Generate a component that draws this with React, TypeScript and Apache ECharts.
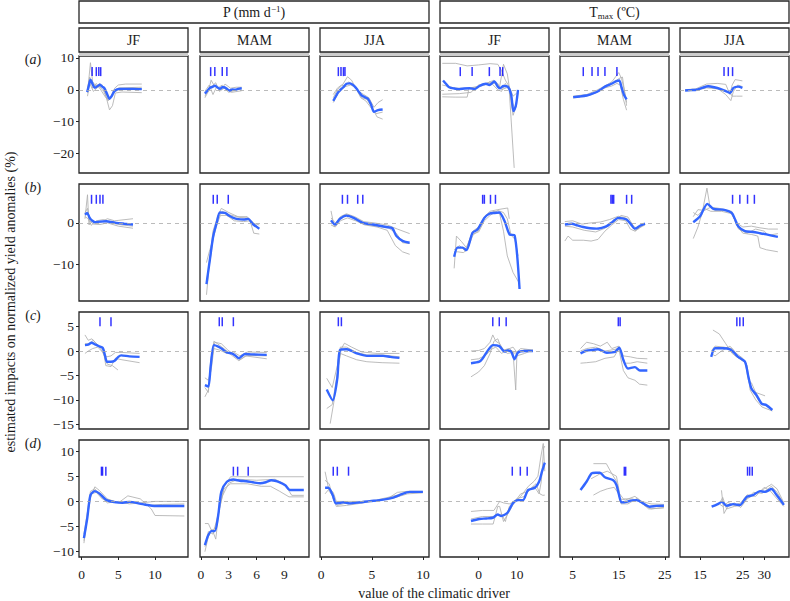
import React, { useEffect, useRef } from "react";
import * as echarts from "echarts";

// ---------- layout / axes ----------
const colLefts = [79, 200, 320, 440, 560, 680];
const rowTops = [56, 184, 312, 440];
const PW = 109;
const PH = 117;

const xMins = [-0.36, -0.1, -0.1, -10.1, 2.25, 10.3];
const xMaxs = [14.5, 11.66, 10.6, 18.4, 25.9, 35.8];
const yMins = [-26.1, -18.9, -16.0, -11.05];
const yMaxs = [10.6, 9.4, 8.0, 12.2];
const xTicks = [[0, 5, 10], [0, 3, 6, 9], [0, 5, 10], [0, 10], [5, 15, 25], [15, 25, 30]];
const yTicks = [[10, 0, -10, -20], [0, -10], [5, 0, -5, -10, -15], [10, 5, 0, -5, -10]];
const rugY = [5.7, 5.7, 6.0, 6.0];
const rowLabels = ["a", "b", "c", "d"];
const seasons = ["JF", "MAM", "JJA", "JF", "MAM", "JJA"];

// ---------- row (a) ----------
const a1Blue = [[0.75,-0.7],[1.0,1.5],[1.2,3.2],[1.5,1.8],[1.8,0.6],[2.2,1.2],[2.5,1.6],[2.8,1.0],[3.1,0.5],[3.5,-1.5],[3.8,-2.8],[4.1,-2.0],[4.5,-0.3],[5.2,0.3],[6,0.3],[7,0.3],[8.2,0.2]];
const a1Gray = [
  [[0.8,-1],[1.2,8.5],[1.5,2.5],[2,1],[2.5,2],[3,0.5],[3.5,-2],[4,-2.5],[4.5,0.5],[5,1.5],[6,1.8],[8.2,1.8]],
  [[0.8,-2],[1.1,2],[1.6,-0.5],[2.2,0.8],[2.8,1.5],[3.2,-1],[3.8,-6.3],[4.2,-5],[4.6,-1],[5.5,-0.7],[8.2,-0.9]],
  [[0.8,0.5],[1.1,4],[1.5,0.5],[2,2],[2.6,0],[3.3,-2.5],[3.8,-3],[4.3,-1],[5,0],[8.2,0.1]],
  [[0.8,-0.5],[1.2,2.5],[1.7,1],[2.3,1.5],[3,-0.5],[3.6,-3.5],[4.1,-1.5],[5,0.6],[8.2,0.8]],
];
const a1Rug = [1.43, 2.0, 2.34, 2.6];

const a2Blue = [[0.43,-1.2],[0.7,-0.3],[0.97,0.6],[1.3,1.0],[1.5,1.3],[1.8,0.7],[2.05,0.3],[2.3,0.8],[2.5,0.8],[2.8,0.3],[3.1,-0.2],[3.4,0.1],[3.7,0],[4.0,0.3],[4.4,0.5]];
const a2Gray = [
  [[0.43,-2.5],[0.8,-0.5],[1.1,3],[1.4,1.5],[1.8,0.5],[2.3,1.5],[2.8,0],[3.3,-0.8],[4.4,-0.3]],
  [[0.43,-0.5],[0.9,1.5],[1.3,-1.5],[1.7,1],[2.2,0],[2.6,1.8],[3.2,0.5],[3.8,0.8],[4.4,0.8]],
  [[0.43,-2],[0.8,0],[1.2,1.2],[1.6,2.2],[2.0,-0.5],[2.5,0.5],[3.0,-0.8],[3.6,-0.2],[4.4,0.3]],
];
const a2Rug = [1.05, 1.5, 2.3, 2.8];

const a3Blue = [[1.2,-3.5],[1.5,-1.8],[1.7,-0.7],[2.0,0.3],[2.25,1.0],[2.5,1.9],[2.8,2.0],[3.0,1.8],[3.25,1.2],[3.5,0.3],[3.75,-0.8],[4.0,-1.8],[4.3,-2.3],[4.6,-2.8],[4.9,-4.5],[5.2,-6.9],[5.6,-6.4],[6.05,-6.2]];
const a3Gray = [
  [[1.2,-2.5],[1.6,0],[2.1,1.5],[2.6,4.1],[3.0,3],[3.5,0],[4,-2.5],[4.5,-3],[5.0,-5.5],[5.5,-8.5],[6.05,-9.2]],
  [[1.2,-4],[1.7,-1],[2.2,0.5],[2.7,2.5],[3.2,1.5],[3.7,-0.5],[4.2,-1.5],[4.7,-2.5],[5.2,-5.5],[5.6,-4],[6.05,-3.1]],
  [[1.2,-1.5],[1.6,0.5],[2.0,1.5],[2.4,1],[2.9,1.5],[3.4,0.8],[3.9,-2.5],[4.4,-3.5],[5.0,-6],[5.4,-7.5],[6.05,-7]],
];
const a3Rug = [1.7, 1.96, 2.2, 2.35];

const a4Blue = [[-9.3,2.9],[-8.5,1.8],[-7.7,0.8],[-6.4,0.4],[-5.1,0.2],[-3.7,0.4],[-2.4,0.5],[-1.1,0.2],[0.2,1.2],[1.9,1.9],[2.8,1.5],[4.1,2.6],[5.0,1.0],[5.6,0.5],[6.5,1.2],[7.6,1.0],[8.5,-1.5],[9.1,-6.7],[9.7,-5.2],[10.3,0]];
const a4Gray = [
  [[-9.5,8.3],[-6,8.3],[-3,7.5],[0,7.8],[3,8.2],[5,8],[6,6],[7,3],[8,1],[9,-2],[10,-1]],
  [[-9.5,-2.2],[-6,-2.3],[-3,-2.3],[-2.5,0.5],[0,1],[3,2.5],[5,0],[6,-0.5],[7,2],[8,0],[9.3,-24.5]],
  [[-9.5,-1.4],[-5,-1.2],[-2,-0.8],[0,1.5],[2,2],[4,3],[5.5,1],[6.5,8],[7.5,5],[8.5,-3],[9.5,-6],[10,-4]],
  [[-9.5,1.5],[-6,0.5],[-3,0.5],[0,1],[3,2],[5,2],[6,0],[8,1],[9,-8],[9.6,-6],[10.3,-1]],
];
const a4Rug = [-4.8, -1.7, 2.8, 5.6, 6.3];

const a5Blue = [[5.1,-2.3],[6.5,-2.1],[8.0,-1.8],[9.1,-1.3],[10.2,-0.7],[11.1,0.1],[12.0,1.0],[13.4,1.9],[14.5,2.7],[15.1,2.9],[15.6,0.8],[16.1,-1.5],[16.7,-3.0]];
const a5Gray = [
  [[5.1,-2.0],[8,-1.5],[10,-0.3],[12,1.2],[13.5,2.5],[15,5.4],[15.6,3.5],[16.2,0],[16.7,-4]],
  [[5.1,-2.6],[8,-2.0],[10,-1.0],[12,0.6],[13.5,1.2],[14.6,2.0],[15.3,1.5],[16,-3],[16.7,-6.4]],
  [[5.1,-2.2],[8,-1.9],[10,-0.8],[12,0.9],[13.8,2.2],[15,3.5],[15.8,4],[16.3,-1],[16.7,-5]],
];
const a5Rug = [7.3, 9.2, 10.5, 12.0, 14.6];

const a6Blue = [[11.5,-0.2],[12.8,-0.1],[14.2,0],[15.5,0.6],[16.9,1.1],[18.3,0.8],[19.7,0.3],[21,-0.4],[22.0,-1.0],[22.8,0.6],[23.9,1.0],[24.9,0.6]];
const a6Gray = [
  [[11.5,0],[14,0.3],[16.5,1.8],[19,2],[21,1.7],[22,-1.5],[22.5,1.5],[23.2,3.2],[24.9,2.8]],
  [[11.5,-0.3],[14,-0.2],[16.5,0.6],[19,0.3],[21,-0.5],[22,-0.8],[22.5,-2],[23.5,-2],[24.9,-2]],
  [[11.5,-0.1],[14,0],[16.5,1],[19,0.5],[21,-1.5],[22.2,-3.4],[22.8,-0.5],[23.8,1.5],[24.9,1]],
];
const a6Rug = [20.6, 21.6, 22.6];

// ---------- row (b) ----------
const b1Blue = [[0.45,2.0],[0.76,2.4],[1.1,1.2],[1.4,0.6],[1.8,0.15],[2.5,0.3],[3.4,0.4],[4.0,0.2],[4.7,0],[5.8,-0.2],[7.0,-0.4]];
const b1Gray = [
  [[0.45,1],[0.8,6.8],[1.0,-0.5],[1.5,0.5],[2.5,0],[3.5,1],[4.5,0.5],[7.0,1.0]],
  [[0.45,2.5],[0.8,3.5],[1.1,0.5],[1.6,-0.3],[2.5,-0.4],[3.5,0],[5,-0.8],[7.0,-1.3]],
  [[0.45,1.5],[0.9,1],[1.3,-0.6],[2,0.5],[3,0.8],[4.5,-0.2],[5.5,-0.5],[7.0,-0.8]],
];
const b1Rug = [1.35, 2.0, 2.5, 2.9];

const b2Blue = [[0.6,-14.8],[0.97,-8.8],[1.33,-3.2],[1.7,0],[2.05,2.5],[2.6,2.4],[3.0,1.8],[3.5,1.2],[4.0,0.9],[4.6,0.8],[5.1,0.96],[5.65,-0.4],[6.3,-1.4]];
const b2Gray = [
  [[0.6,-17.4],[0.9,-10],[1.3,-2],[1.8,1.5],[2.2,3.5],[3,2.5],[4,1.5],[5,1.5],[5.5,0],[6.3,-0.5]],
  [[0.6,-9.6],[0.9,-7],[1.3,-4],[1.7,-0.5],[2.1,1.8],[2.8,1.8],[3.6,0.5],[4.6,0.3],[5.3,0.5],[5.7,-2.5],[6.3,-2.7]],
  [[0.6,-14],[1.0,-9],[1.4,-2.5],[1.8,1],[2.3,2.8],[3.0,2.0],[4.2,1.3],[5.0,1.2],[5.7,0],[6.3,-1.5]],
];
const b2Rug = [1.33, 1.76, 2.95];

const b3Blue = [[0.98,0.6],[1.37,-0.4],[1.86,1.0],[2.5,1.75],[3.2,1.2],[4.1,0],[5.1,-0.4],[6.4,-1.0],[7.0,-1.3],[7.4,-3.2],[8.05,-4.4],[8.7,-4.8]];
const b3Gray = [
  [[0.98,2.9],[1.3,-1.0],[1.9,1.5],[2.5,2.2],[3.3,1.5],[4.2,0.3],[5.2,0],[6.5,-0.5],[7.5,-1.5],[8.7,-2.6]],
  [[0.98,-0.5],[1.4,-1],[1.9,0.5],[2.6,1.2],[3.4,0.5],[4.3,-0.5],[5.5,-1],[6.5,-1.8],[7.3,-5.5],[8,-7],[8.7,-7.6]],
  [[0.98,1.2],[1.4,0],[1.9,1.2],[2.5,2],[3.3,1],[4.2,-0.3],[5.3,-0.7],[6.6,-1.2],[7.4,-2.5],[8.0,-4.8],[8.7,-5]],
];
const b3Rug = [2.1, 2.6, 3.6, 4.1];

const b4Blue = [[-6.4,-8.2],[-5.5,-6.0],[-4.2,-6.0],[-3.2,-6.6],[-1.6,-2.4],[-0.3,-1.6],[1.5,1.2],[2.8,2.2],[4.1,2.4],[5.4,2.5],[6.8,0.4],[8.1,-2.8],[9.4,-3.0],[10.7,-16.0]];
const b4Gray = [
  [[-6.4,-11],[-5.8,-3.2],[-4.5,-4.5],[-3.2,-6],[-1.5,-2],[0,-1],[1.5,1.5],[3,2.8],[5,3.2],[7.6,3.6],[8,1.0]],
  [[-6.4,-7],[-5.5,-7],[-4,-7.2],[-3,-6.5],[-1.5,-3],[0,-1.8],[2,1.8],[4,2.8],[5.5,2.2],[6.5,-2],[7.5,-8],[9,-12],[10.5,-14.4]],
  [[-6.4,-6.5],[-5,-5.5],[-3.5,-6.8],[-1.8,-2.8],[0,-2.2],[1.5,0.5],[3,1.8],[5,3],[6.5,2.5],[7.5,1],[8.5,-3],[9.5,-4],[10.3,-8]],
];
const b4Rug = [1.05, 1.5, 3.1, 4.4];

const b5Blue = [[3.3,-0.4],[4.8,-0.2],[6,-0.6],[7.3,-1.0],[8.8,-1.3],[10.2,-1.4],[11.3,-1.2],[12.4,-0.8],[13.7,0.3],[14.9,1.2],[15.8,1.1],[16.7,0.8],[17.6,-0.3],[18.5,-1.4],[19.6,-0.7],[20.7,-0.2]];
const b5Gray = [
  [[3.3,0.3],[5,0.5],[7,-0.3],[9,0],[11,0.2],[13,0.8],[14.9,1.6],[16.5,1.2],[18,-0.5],[18.6,-2],[19.5,-1.2],[20.7,-0.5]],
  [[3.3,-4.4],[4,-3.2],[5,-4.2],[7.3,-4.2],[9,-4.4],[10.5,-4.0],[12,-2.0],[13.5,-0.5],[15,0.8],[16.5,0.5],[17.5,-1.5],[18.5,-2.0],[20,-0.5]],
  [[3.3,-0.8],[5,-1.0],[7.5,-1.8],[10,-2.2],[12,-1.3],[14,0.2],[15.5,1.8],[17,1.4],[18.2,-0.8],[19.2,-1.5],[20.5,-0.3]],
];
const b5Rug = [13.3, 13.6, 13.9, 16.7, 17.8];

const b6Blue = [[13.4,0.15],[15,1.6],[16.7,4.6],[18.1,3.4],[20.4,3.2],[22.4,2.4],[23.2,0.8],[23.9,-0.8],[25.5,-2.0],[27.4,-2.2],[29,-2.5],[30.5,-2.8],[33.2,-3.4]];
const b6Gray = [
  [[13.4,-3.8],[14.5,-1],[15.5,2.5],[16.6,8.4],[17.3,4],[18.5,3],[20.5,3],[22.4,2.8],[23.5,-0.5],[25,-2.5],[27,-2.8],[28.5,-3.2],[29,-6],[30.5,-6.5],[33.2,-7]],
  [[13.4,1.5],[14.5,3.2],[16,3],[17.5,3.8],[19.5,3.5],[22,2.8],[23.5,0],[25,-1],[27,-0.8],[29,-1.2],[31,-1.5],[33.2,-1.5]],
  [[13.4,2.5],[14.5,1.8],[16,3.5],[17.5,2.8],[20,2.8],[22.5,2.2],[24,-1.5],[26,-2.5],[28,-1.5],[30,-2],[31,-3],[33.2,-2.6]],
];
const b6Rug = [22.6, 24.3, 26.1, 27.7];

// ---------- row (c) ----------
const c1Blue = [[0.45,1.2],[0.9,1.3],[1.35,1.7],[1.9,1.3],[2.5,0.9],[2.9,0.6],[3.2,-1.0],[3.45,-2.2],[4.0,-2.2],[4.5,-2.0],[5.0,-1.2],[5.4,-0.9],[6.5,-1.1],[7.9,-1.2]];
const c1Gray = [
  [[0.45,3.3],[0.9,2.2],[1.4,2.5],[2,1.5],[2.6,0.5],[3.1,-1],[3.5,-2.7],[4.2,-3],[4.95,-3.9]],
  [[0.45,-0.5],[0.9,0],[1.5,0.5],[2.2,0.8],[2.9,-0.3],[3.4,-1.2],[4,-1],[4.6,-0.3],[5.5,-0.3],[7.9,-0.5]],
  [[0.45,1.5],[1,1.5],[1.6,2.2],[2.3,1],[2.9,0.5],[3.3,-3],[4,-3.2],[4.6,-1.5],[5.5,-1.8],[7.9,-2.4]],
];
const c1Rug = [2.5, 4.0];

const c2Blue = [[0.43,-7.0],[0.8,-7.3],[1.05,-3.2],[1.4,1.2],[1.87,0.9],[2.3,0.4],[2.8,-0.3],[3.3,-0.5],[3.7,-0.9],[4.1,-1.5],[4.75,-0.6],[5.5,-0.7],[7.1,-0.8]];
const c2Gray = [
  [[0.43,-9.4],[0.8,-8],[1.05,-2],[1.4,2],[2,1.2],[2.8,0],[3.4,-1],[4.1,-2],[4.8,-1],[7.1,-1.6]],
  [[0.43,-5.5],[0.8,-6],[1.1,-4],[1.4,0.5],[2,0.2],[2.8,-0.5],[3.5,-0.2],[4.2,-1],[5,-0.2],[7.1,-0.3]],
  [[0.43,-7.5],[0.8,-8.5],[1.1,-2.5],[1.5,1.8],[2.2,1.5],[2.9,0.2],[3.6,-0.8],[4.2,-1.8],[5,-0.9],[7.1,-1.0]],
];
const c2Rug = [1.98, 2.3, 3.5];

const c3Blue = [[0.56,-7.9],[1.15,-10.1],[1.6,-5.6],[1.86,0.2],[2.5,0.35],[3.0,0],[3.5,-0.5],[4.5,-1.0],[6.1,-1.0],[6.8,-1.2],[7.7,-1.4]];
const c3Gray = [
  [[0.9,-14.9],[1.3,-10],[1.7,-3],[2.0,0.5],[2.3,1.6],[3,0.8],[4,-0.2],[5.5,-0.5],[7.7,-0.5]],
  [[0.56,-11.8],[1.1,-11],[1.5,-6],[1.9,-0.5],[2.5,-1],[3.5,-1.8],[4.5,-2.2],[6,-2.4],[7.7,-2.5]],
  [[0.56,-5.6],[1.1,-7.5],[1.6,-3],[1.9,0.8],[2.5,0.8],[3.5,-0.3],[4.5,-0.8],[6,-0.8],[7.7,-1.2]],
];
const c3Rug = [1.7, 2.0];

const c4Blue = [[-2.0,-2.5],[0.2,-2.2],[1.0,-1.6],[1.9,-0.5],[2.8,0.5],[3.7,1.2],[5.4,1.0],[6.8,-0.1],[7.6,0.1],[8.5,-0.1],[9.4,-1.7],[10.3,-0.3],[12.0,0],[14.2,0]];
const c4Gray = [
  [[-2,-5.3],[0,-4.3],[1.5,-3],[3,-0.5],[4,2],[5,2.5],[6,0.5],[7.5,-0.5],[9,-0.3],[9.7,-8.0],[10,-1],[12,-0.5],[14.2,0.2]],
  [[-2,0],[0,0.1],[1.5,0.5],[3,1.8],[3.7,3.3],[4.5,2],[5.5,1.5],[6.5,0.2],[8,0.5],[9.5,-0.5],[11,0.5],[14.2,0.2]],
  [[-2,-1.8],[0,-1.6],[2,-0.8],[3.2,0.3],[4.5,0.8],[6,-0.5],[7.5,0.3],[9,0.8],[10,-0.3],[12,0.2],[14.2,0.1]],
];
const c4Rug = [3.7, 5.4, 7.2];

const c5Blue = [[6.7,-0.5],[8.0,0.05],[9.2,0.2],[10.5,0.35],[12.4,-0.35],[14.2,-0.2],[15.1,0.7],[16.0,-1.85],[17.0,-3.6],[18.5,-3.3],[19.6,-4.0],[21.2,-4.0]];
const c5Gray = [
  [[6.7,-2.5],[8,-2.4],[10,-2.2],[12,-1.5],[14,-1.2],[15,0.5],[16,-4],[17,-5.5],[18.5,-6],[19.5,-6.8],[21.2,-7.0]],
  [[6.7,0.5],[8,1.8],[9.5,1.5],[11,1.0],[12.5,1.8],[13.5,0.5],[15,1],[16,-1],[17.5,-1.2],[19,-1.5],[21.2,-1.6]],
  [[6.7,0],[8,0.5],[10,0.8],[12,0],[14,0.3],[15.3,0.6],[16.3,-2.5],[17.5,-2.5],[19,-2.2],[21.2,-2.5]],
];
const c5Rug = [14.9, 15.3];

const c6Blue = [[17.6,-1.2],[18.5,0.55],[20.4,0.55],[22.0,0.35],[23.0,-0.4],[23.9,-1.2],[25.5,-2.2],[26.3,-5.3],[27.0,-7.7],[28.2,-9.05],[29.4,-10.8],[30.5,-11.1],[31.9,-12.1]];
const c6Gray = [
  [[18,4.3],[19.5,3.5],[21,1.5],[22.5,-0.5],[24,-1.5],[25.5,-2],[26.3,-6],[27,-6.5],[28,-8.5],[30.2,-9.2]],
  [[17.6,-0.5],[18.5,-1],[20,0],[22,1],[23.5,-0.5],[25,-1.5],[26,-3],[26.7,-8],[28,-10],[29.5,-11.5],[31.9,-12.3]],
  [[17.6,0],[18.5,1],[20.5,0.8],[22.5,0.5],[24.5,-1.8],[25.8,-2.5],[26.5,-6.5],[27.5,-8.5],[29,-10.5],[31,-11.5],[31.9,-12]],
];
const c6Rug = [23.6, 24.3, 25.1];

// ---------- row (d) ----------
const d1Blue = [[0.31,-7.3],[0.76,-3.4],[1.2,1.25],[1.8,2.05],[2.4,1.6],[3.4,0.26],[4.7,-0.2],[5.6,-0.26],[6.5,-0.1],[8.3,-0.55],[10.1,-0.93],[14.0,-0.93]];
const d1Gray = [
  [[0.31,-8.3],[0.7,-4],[1.1,0.5],[1.8,2.9],[2.4,2.2],[3.5,0.5],[5,-0.3],[6.3,1.1],[8,0.5],[9.5,-1.5],[10,-2.8],[14,-2.9]],
  [[0.31,-6.5],[0.8,-2],[1.2,2],[1.8,2.5],[2.6,1],[3.5,-0.3],[5,0],[6.5,-0.5],[8,-0.3],[10,0],[14,0]],
  [[0.31,-7.8],[0.8,-3],[1.3,1.5],[2,1.8],[2.8,0.5],[4,0.2],[5.5,-0.4],[7,-0.2],[9,-0.8],[11,-0.6],[14,-0.5]],
];
const d1Rug = [2.7, 2.85, 3.3];

const d2Blue = [[0.43,-8.7],[0.8,-6.7],[1.15,-5.9],[1.5,-5.9],[1.87,-2.7],[2.2,1.9],[2.8,3.9],[3.5,4.35],[4.2,4.1],[4.9,4.0],[5.6,3.8],[6.4,3.6],[7.0,3.8],[7.6,4.2],[8.5,3.8],[9.1,3.2],[9.6,2.25],[11.1,2.25]];
const d2Gray = [
  [[0.43,-10],[0.8,-7],[1.2,-5.5],[1.6,-7.5],[2,-1],[2.5,3],[3.2,4.9],[5,4.9],[8,4.9],[11.1,4.9]],
  [[0.43,-4.4],[0.8,-4.4],[1.2,-6],[1.6,-5],[2,-1.5],[2.5,2.5],[3.2,3.5],[5,3.5],[6.5,3.0],[7.5,3.0],[8.5,2.0],[9.5,0.9],[11.1,0.9]],
  [[0.43,-9],[0.8,-6],[1.3,-6.5],[1.8,-3],[2.3,1],[3,3.6],[4,4.4],[6,4.2],[8,4.4],[9,3.5],[9.8,1.2],[11.1,1.2]],
];
const d2Rug = [3.5, 3.96, 5.1];

const d3Blue = [[0.4,2.7],[0.72,2.7],[1.15,1.25],[1.47,-0.4],[2.2,-0.2],[2.8,-0.4],[3.8,-0.2],[4.8,0.06],[5.6,0.2],[6.4,0.45],[7.0,0.7],[7.7,1.25],[8.7,1.9],[10.0,1.9]];
const d3Gray = [
  [[0.4,5.9],[0.8,2],[1.2,1],[1.5,-1],[2.5,-0.8],[3.5,-0.5],[5,0],[6.5,0.5],[7.5,1.8],[8.5,2],[10,2]],
  [[0.4,4.2],[0.8,3.5],[1.2,0.5],[1.6,-0.8],[2.5,-0.3],[4,-0.2],[5.5,0.3],[7,1],[8.5,1.8],[10,1.9]],
  [[0.4,1.5],[0.8,2.5],[1.2,1.8],[1.5,0],[2.5,0],[4,0],[5.5,0.1],[7,0.6],[8.5,1.5],[10,1.7]],
];
const d3Rug = [1.2, 1.6, 2.7];

const d4Blue = [[-2.0,-3.9],[0.2,-3.5],[2,-3.4],[3.7,-3.25],[5.0,-2.6],[5.9,-2.9],[7.6,-2.2],[8.9,-0.4],[10.3,0.26],[11.6,0.26],[12.9,2.25],[14.7,2.7],[15.8,3.9],[16.6,6],[17.3,7.7]];
const d4Gray = [
  [[-2,-4.5],[1,-4.5],[3.8,-4.5],[5,-1],[5.5,-1],[6.5,-4],[8,-2],[9.5,0],[11,1],[13,3],[14.5,4],[15.5,5],[16.3,9],[16.9,11.5],[17.3,6]],
  [[-2,-2],[1,-1.8],[4,-1.8],[5.5,0],[6.5,-0.3],[8,-0.5],[9.5,0],[11,1.5],[13,2],[14.5,3],[15.8,1.5],[16.4,4],[17.0,10.5],[17.3,11]],
  [[-2,-3.5],[1,-3],[4,-3],[6,-2.5],[7,-4],[8,-1],[10,0.5],[12,1],[13.5,2.5],[15,3.5],[16,1.5],[16.8,1.2],[17.3,1.25]],
];
const d4Rug = [8.8, 10.9, 12.7];

const d5Blue = [[6.7,2.25],[8.0,3.9],[9.1,5.55],[10.0,5.7],[10.9,5.7],[12.0,4.8],[13.8,4.2],[14.5,3.25],[15.0,1.5],[15.6,-0.2],[16.7,-0.1],[17.8,0.2],[18.9,0.26],[20.3,-0.4],[21.7,-1.06],[23.2,-0.9],[24.8,-0.87]];
const d5Gray = [
  [[9.5,7.5],[12.3,7.5],[13.5,5.5],[14.5,5.0],[15.2,1.5],[16,0.5],[18,0.5],[20,-0.3],[21.5,-1.5],[24.8,-1.3]],
  [[9.5,1.25],[11,2],[12.5,2.5],[14,2.8],[15,1.5],[15.5,-0.5],[17,-0.5],[19,0.6],[20.5,-0.8],[22,-1.5],[24.8,-1.2]],
  [[9,4.5],[11,5.5],[12.5,6],[13.5,5.5],[14.5,4],[15.2,0.5],[16.5,0.3],[18.5,1.0],[20,0],[22,-0.5],[24.8,-0.6]],
];
const d5Rug = [16.2, 16.5];

const d6Blue = [[17.7,-1.06],[19,-0.6],[20.1,-0.1],[21.2,-0.87],[22.8,-0.55],[24.3,-0.75],[25.9,0.9],[27.4,1.25],[29.0,2.05],[30.2,1.9],[31.7,2.45],[32.9,1.25],[34.6,-0.7]];
const d6Gray = [
  [[20,2.2],[20.6,-2.4],[21.5,-1],[23,-0.3],[24.5,-1.2],[26,0.5],[28,1.5],[30,2.5],[31.7,3.4],[33,2.5],[34.6,-0.3]],
  [[19.5,-0.5],[20.3,-1],[21.5,-0.2],[23,-0.8],[24.5,-0.3],[26,1.3],[28,1.0],[30,2.8],[31.5,2.0],[33,0.5],[34.6,-1]],
  [[19.8,0],[20.3,0.8],[21.2,-1.5],[23,-1],[24.5,-0.8],[26,0.6],[27.5,1.8],[29.5,1.6],[31.7,3],[33,1.8],[34.6,-0.5]],
];
const d6Rug = [26.1, 26.6, 27.2];

const panels = [
  [[a1Blue, a1Gray, a1Rug], [a2Blue, a2Gray, a2Rug], [a3Blue, a3Gray, a3Rug], [a4Blue, a4Gray, a4Rug], [a5Blue, a5Gray, a5Rug], [a6Blue, a6Gray, a6Rug]],
  [[b1Blue, b1Gray, b1Rug], [b2Blue, b2Gray, b2Rug], [b3Blue, b3Gray, b3Rug], [b4Blue, b4Gray, b4Rug], [b5Blue, b5Gray, b5Rug], [b6Blue, b6Gray, b6Rug]],
  [[c1Blue, c1Gray, c1Rug], [c2Blue, c2Gray, c2Rug], [c3Blue, c3Gray, c3Rug], [c4Blue, c4Gray, c4Rug], [c5Blue, c5Gray, c5Rug], [c6Blue, c6Gray, c6Rug]],
  [[d1Blue, d1Gray, d1Rug], [d2Blue, d2Gray, d2Rug], [d3Blue, d3Gray, d3Rug], [d4Blue, d4Gray, d4Rug], [d5Blue, d5Gray, d5Rug], [d6Blue, d6Gray, d6Rug]],
];

const FONT = '"Liberation Serif", "DejaVu Serif", serif';
const TXT = "#1a1a1a";
const BORDER = "#262626";

function buildOption() {
  const grid: any[] = [];
  const xAxis: any[] = [];
  const yAxis: any[] = [];
  const series: any[] = [];
  const graphic: any[] = [];

  for (let r = 0; r < 4; r++) {
    for (let c = 0; c < 6; c++) {
      const i = r * 6 + c;
      grid.push({
        left: colLefts[c], top: rowTops[r], width: PW, height: PH,
        show: true, borderColor: BORDER, borderWidth: 1.3, backgroundColor: "#fff",
      });
      xAxis.push({
        gridIndex: i, type: "value", min: xMins[c], max: xMaxs[c],
        axisLine: { show: false, onZero: false },
        splitLine: { show: false },
        axisTick: { show: r === 3, length: 3, customValues: xTicks[c], lineStyle: { color: BORDER, width: 1 } },
        axisLabel: { show: r === 3, customValues: xTicks[c], margin: 10, fontSize: 13.5, fontFamily: FONT, color: TXT },
      });
      yAxis.push({
        gridIndex: i, type: "value", min: yMins[r], max: yMaxs[r],
        axisLine: { show: false, onZero: false },
        splitLine: { show: false },
        axisTick: { show: c === 0, length: 3, customValues: yTicks[r], lineStyle: { color: BORDER, width: 1 } },
        axisLabel: {
          show: c === 0, customValues: yTicks[r], margin: 5, fontSize: 13.5, fontFamily: FONT, color: TXT,
          formatter: (v: number) => String(v).replace("-", "\u2212"),
        },
      });
      const [blue, grays, rug] = panels[r][c] as any;
      (grays as number[][][]).forEach((g, k) => {
        const s: any = {
          type: "line", xAxisIndex: i, yAxisIndex: i, data: g, symbol: "none", silent: true,
          lineStyle: { color: "#b0b0b0", width: 0.85 }, z: 2,
        };
        if (k === 0) {
          s.markLine = {
            silent: true, symbol: ["none", "none"], label: { show: false },
            lineStyle: { type: [4, 4], color: "#aaaaaa", width: 0.8 },
            data: [{ yAxis: 0 }],
          };
        }
        series.push(s);
      });
      series.push({
        type: "line", xAxisIndex: i, yAxisIndex: i, data: blue, symbol: "none", silent: true,
        smooth: 0.25, lineStyle: { color: "#3366ff", width: 2.4 }, z: 4,
      });
      series.push({
        type: "scatter", xAxisIndex: i, yAxisIndex: i,
        data: (rug as number[]).map((x) => [x, rugY[r]]),
        symbol: "rect", symbolSize: [1.5, 9], silent: true,
        itemStyle: { color: "#0000ff" }, z: 5,
      });
    }
  }

  // top strips
  const topStrips = [
    { x0: colLefts[0], x1: colLefts[2] + PW, text: "P (mm d{sup|\u22121})" },
    { x0: colLefts[3], x1: colLefts[5] + PW, text: "T{sub|max} (\u00baC)" },
  ];
  const rich = {
    sup: { fontSize: 9, fontFamily: FONT, fill: TXT, verticalAlign: "top", lineHeight: 16 },
    sub: { fontSize: 9, fontFamily: FONT, fill: TXT, verticalAlign: "bottom", lineHeight: 16 },
    i: { fontSize: 14, fontFamily: FONT, fill: TXT, fontStyle: "italic" },
  };
  topStrips.forEach((s) => {
    graphic.push({
      type: "rect", shape: { x: s.x0, y: 1, width: s.x1 - s.x0, height: 22 },
      style: { fill: "#fff", stroke: BORDER, lineWidth: 1.3 },
    });
    graphic.push({
      type: "text", x: (s.x0 + s.x1) / 2, y: 12.5,
      style: { text: s.text, fontSize: 14, fontFamily: FONT, fill: TXT, align: "center", verticalAlign: "middle", lineHeight: 16, rich },
    });
  });
  seasons.forEach((s, c) => {
    graphic.push({
      type: "rect", shape: { x: colLefts[c], y: 52, width: PW, height: 4 },
      style: { fill: "#cccccc" },
    });
    graphic.push({
      type: "rect", shape: { x: colLefts[c], y: 28, width: PW, height: 24 },
      style: { fill: "#fff", stroke: BORDER, lineWidth: 1.3 },
    });
    graphic.push({
      type: "text", x: colLefts[c] + PW / 2, y: 40.5,
      style: { text: s, fontSize: 14, fontFamily: FONT, fill: TXT, align: "center", verticalAlign: "middle" },
    });
  });
  rowLabels.forEach((l, r) => {
    graphic.push({
      type: "text", x: 33, y: rowTops[r] + 3,
      style: { text: "({i|" + l + "})", fontSize: 14, fontFamily: FONT, fill: TXT, align: "center", verticalAlign: "middle", rich },
    });
  });
  graphic.push({
    type: "text", x: 434, y: 593,
    style: { text: "value of the climatic driver", fontSize: 14, fontFamily: FONT, fill: TXT, align: "center", verticalAlign: "middle" },
  });
  graphic.push({
    type: "text", x: 10, y: 302, rotation: Math.PI / 2,
    style: { text: "estimated impacts on normalized yield anomalies (%)", fontSize: 14, fontFamily: FONT, fill: TXT, align: "center", verticalAlign: "middle" },
  });

  return { animation: false, backgroundColor: "#fff", grid, xAxis, yAxis, series, graphic };
}

export default function App() {
  const ref = useRef<HTMLDivElement>(null);
  useEffect(() => {
    if (!ref.current) return;
    const chart = echarts.init(ref.current, undefined, { renderer: "svg" });
    chart.setOption(buildOption() as any);
    return () => chart.dispose();
  }, []);
  return <div ref={ref} style={{ position: "fixed", left: 0, top: 0, width: 790, height: 601, background: "#fff" }} />;
}
